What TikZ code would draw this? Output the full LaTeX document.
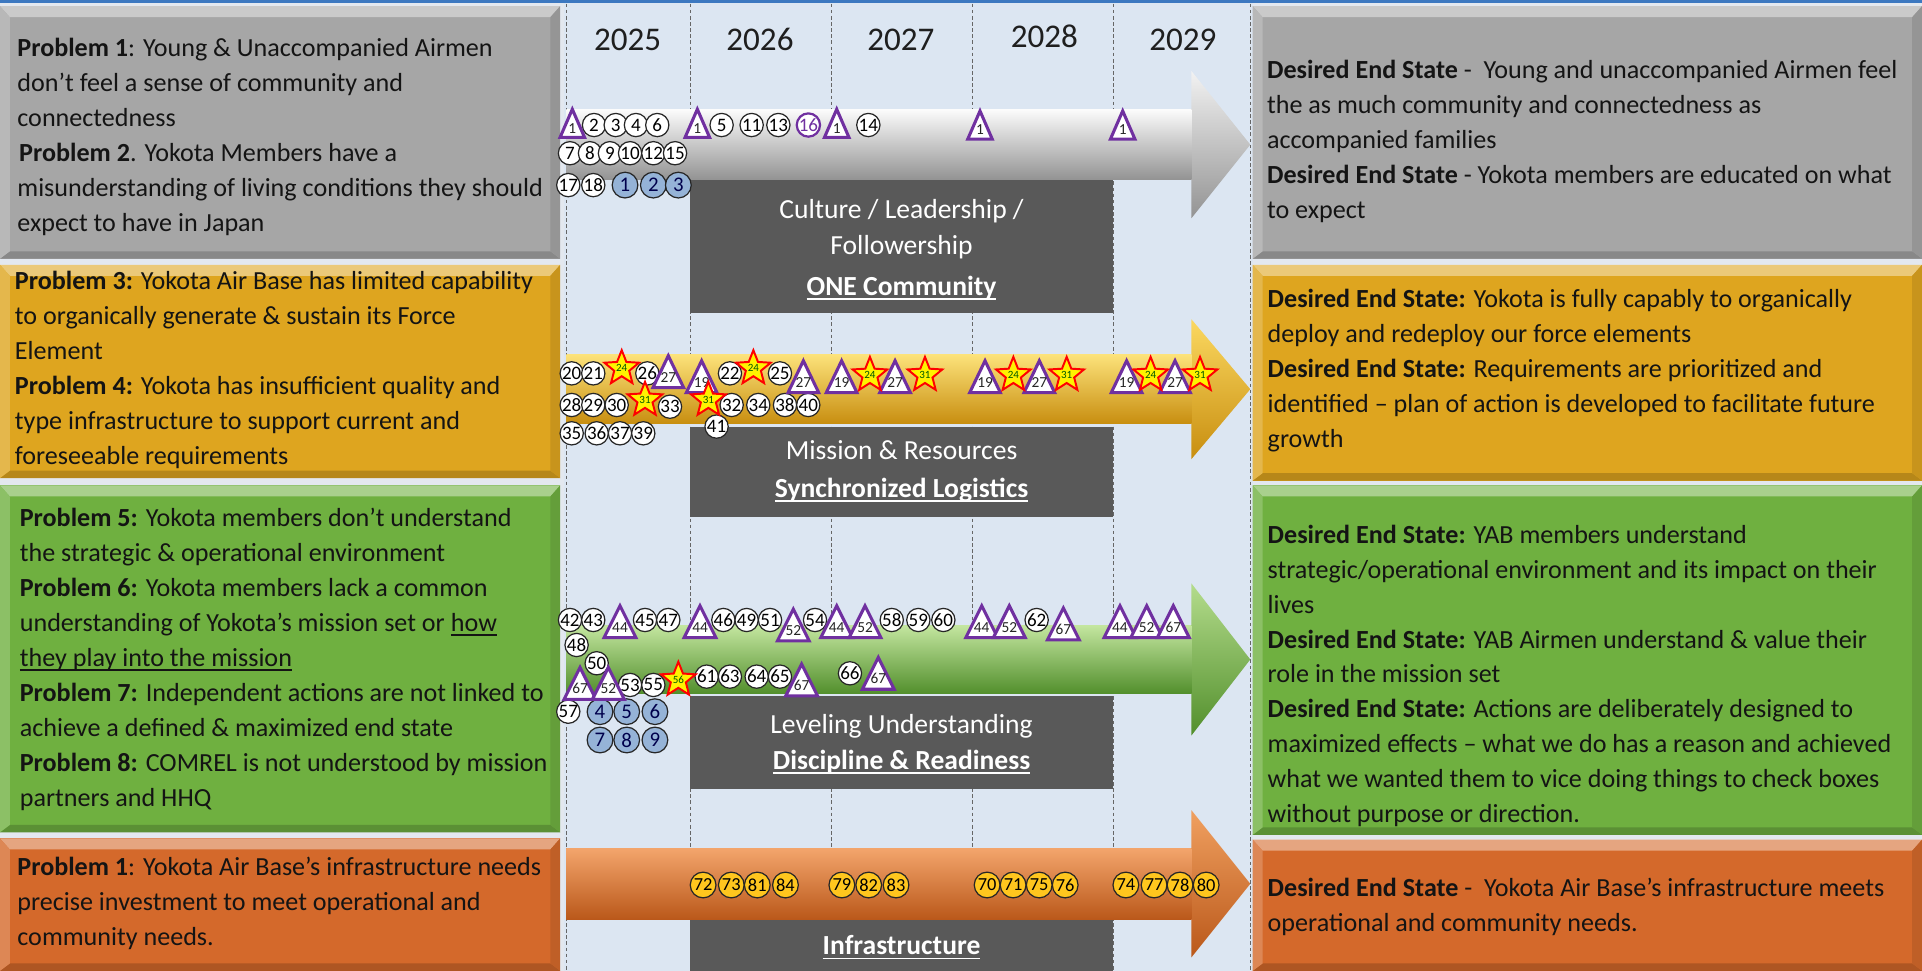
\documentclass[tikz,border=0pt]{standalone}
\usepackage{fontspec}
\setmainfont{Carlito}
\usetikzlibrary{shapes.geometric}
\newcommand\uln[1]{\leavevmode\setbox0\hbox{#1}\rlap{\raisebox{-3.5pt}{\rule{\wd0}{1.3pt}}}\box0}
\definecolor{cgap}{HTML}{E3E8EF}
\definecolor{ccol}{HTML}{DCE6F2}
\definecolor{ctop}{HTML}{3C78C0}
\definecolor{cgray}{HTML}{A6A6A6}
\definecolor{cgold}{HTML}{DEA51F}
\definecolor{cgreen}{HTML}{6FB040}
\definecolor{corange}{HTML}{D4692B}
\definecolor{cdark}{HTML}{595959}
\definecolor{cblue}{HTML}{95B3D7}
\definecolor{cyel}{HTML}{FFC61E}
\definecolor{cpurp}{HTML}{7030A0}
\definecolor{agl}{HTML}{FBD860}\definecolor{agm}{HTML}{EEB020}\definecolor{agd}{HTML}{C88E10}\definecolor{agt}{HTML}{FCE27A}
\definecolor{anl}{HTML}{B4DC8C}\definecolor{anm}{HTML}{7EBD4A}\definecolor{and}{HTML}{528F2C}\definecolor{ant}{HTML}{C4E6A0}
\definecolor{aol}{HTML}{F0A060}\definecolor{aom}{HTML}{E4742C}\definecolor{aod}{HTML}{BA581A}\definecolor{aot}{HTML}{F3A56C}
\definecolor{ayl}{HTML}{F2F2F2}\definecolor{aym}{HTML}{C9C9C9}\definecolor{ayd}{HTML}{939393}\definecolor{ayt}{HTML}{FBFBFB}
\newcommand\panel[5]{%
  \fill[#5] (#1,#2) rectangle (#3,#4);
  \fill[#5!60!white] (#1,#2) -- (#3,#2) -- ({#3-8},{#2+9}) -- ({#1+8},{#2+9}) -- cycle;
  \fill[#5!82!black] (#1,#4) -- (#3,#4) -- ({#3-8},{#4-6}) -- ({#1+8},{#4-6}) -- cycle;
  \fill[#5!90!black] (#3,#2) -- (#3,#4) -- ({#3-8},{#4-6}) -- ({#3-8},{#2+9}) -- cycle;
  \fill[#5!80!white] (#1,#2) -- (#1,#4) -- ({#1+8},{#4-6}) -- ({#1+8},{#2+9}) -- cycle;}
% cy, half body, half head, colour prefix
\newcommand\larrow[4]{%
  \shade[top color=#4l, middle color=#4m, bottom color=#4d] (462,{#1-#2}) -- (972,{#1-#2}) -- (972,{#1-#3}) -- (1020,#1) -- (972,{#1+#3}) -- (972,{#1+#2}) -- (462,{#1+#2}) -- cycle;
  \shade[top color=#4t, middle color=#4m, bottom color=#4d] (462,{#1-#2}) rectangle (972,{#1+#2});}
\def\triw{10}\def\trih{24}
\newcommand\mtri[4]{%
  \draw[triline] ({#2},{#3-0.5*\trih}) -- ({#2+\triw},{#3+0.5*\trih}) -- ({#2-\triw},{#3+0.5*\trih}) -- cycle;
  \node[trilab] (#1) at ({#2},{#3+0.17*\trih}) {#4};}
\begin{document}
\begin{tikzpicture}[x=1pt,y=-1pt,
  txt/.style={anchor=north west, inner sep=0, align=left, font=\fontsize{21.3}{28.5}\selectfont, text=black!92},
  boxtxt/.style={anchor=base, inner sep=0, font=\fontsize{22.5}{27}\selectfont, text=white},
  year/.style={anchor=base, inner sep=0, font=\fontsize{27}{30}\selectfont, text=black!88},
  wc/.style={circle, draw=black!85, line width=1, fill=white, inner sep=0, minimum size=19, font=\fontsize{15.5}{15.5}\selectfont},
  bc/.style={wc, fill=cblue, minimum size=21, font=\fontsize{17}{17}\selectfont, text=blue!30!black},
  yc/.style={wc, fill=cyel, minimum size=21, font=\fontsize{15}{15}\selectfont},
  pc/.style={wc, draw=cpurp, line width=1.8, text=cpurp},
  triline/.style={draw=cpurp, line width=2.5, fill=white, line join=miter},
  trilab/.style={inner sep=0, font=\fontsize{12.5}{12.5}\selectfont, text=black!85},
  stm/.style={star, star points=5, star point ratio=2.3, draw=red, line width=1.6, fill=yellow, minimum size=28, inner sep=0, font=\fontsize{9}{9}\selectfont, text=green!35!black},
  vline/.style={densely dashed, draw=black!60, line width=0.7},
]
\useasboundingbox (0,0) rectangle (1568,792);
% background
\fill[cgap] (0,0) rectangle (1568,792);
\fill[ccol] (460,0) rectangle (1022,792);
\foreach \x in {462,563,678,793,908,1020} \draw[vline] (\x,3) -- (\x,792);
% panels
\panel{0}{5}{457}{211}{cgray}
\panel{0}{216}{457}{390}{cgold}
\panel{0}{396}{457}{679}{cgreen}
\panel{0}{684}{457}{792}{corange}
\panel{1022}{5}{1568}{211}{cgray}
\panel{1022}{216}{1568}{392}{cgold}
\panel{1022}{396}{1568}{681}{cgreen}
\panel{1022}{685}{1568}{792}{corange}
\fill[ctop] (0,0) rectangle (1568,2.5);
% arrows
\larrow{118}{28.5}{60}{ay}
\larrow{317.5}{28}{57}{ag}
\larrow{538}{28}{62}{an}
\larrow{721}{29}{60}{ao}
% dark boxes
\fill[cdark] (563,146.8) rectangle (908,255);
\fill[cdark] (563,348) rectangle (908,422);
\fill[cdark] (563,568) rectangle (908,644);
\fill[cdark] (563,750.6) rectangle (908,792);
\node[boxtxt] (b1a) at (735.5,178) {Culture / Leadership /};
\node[boxtxt] (b1b) at (735.5,208) {Followership};
\node[boxtxt] (b1c) at (735.5,241) {\textbf{\uln{ONE Community}}};
\node[boxtxt] (b2a) at (735.5,375) {Mission \& Resources};
\node[boxtxt] (b2b) at (735.5,406) {\textbf{\uln{Synchronized Logistics}}};
\node[boxtxt] (b3a) at (735.5,598) {Leveling Understanding};
\node[boxtxt] (b3b) at (735.5,628) {\textbf{\uln{Discipline \& Readiness}}};
\node[boxtxt] (b4a) at (735.5,779) {\textbf{\uln{Infrastructure}}};
% years
\node[year] (y25) at (512,41.5) {2025};
\node[year] (y26) at (620,41.5) {2026};
\node[year] (y27) at (735,41.5) {2027};
\node[year] (y28) at (852,38.5) {2028};
\node[year] (y29) at (965,41.5) {2029};
% left texts
\node[txt] (l1) at (14,26.25) {\strut\textbf{Problem 1}: Young \& Unaccompanied Airmen\\don’t feel a sense of community and\\connectedness\\\hspace{1.5pt}\textbf{Problem 2}. Yokota Members have a\\misunderstanding of living conditions they should\\expect to have in Japan};
\node[txt] (l2) at (12,216.3) {\strut\textbf{Problem 3:} Yokota Air Base has limited capability\\to organically generate \& sustain its Force\\Element\\\textbf{Problem 4:} Yokota has insufficient quality and\\type infrastructure to support current and\\foreseeable requirements};
\node[txt] (l3) at (16,409.75) {\strut\textbf{Problem 5:} Yokota members don’t understand\\the strategic \& operational environment\\\textbf{Problem 6:} Yokota members lack a common\\understanding of Yokota’s mission set or \uln{how}\\\uln{they play into the mission}\\\textbf{Problem 7:} Independent actions are not linked to\\achieve a defined \& maximized end state\\\textbf{Problem 8:} COMREL is not understood by mission\\partners and HHQ};
\node[txt] (l4) at (14,694) {\strut\textbf{Problem 1}: Yokota Air Base’s infrastructure needs\\precise investment to meet operational and\\community needs.};
% right texts
\node[txt] (r1) at (1033.5,44) {\strut\textbf{Desired End State} -~ Young and unaccompanied Airmen feel\\the as much community and connectedness as\\accompanied families\\\textbf{Desired End State} - Yokota members are educated on what\\to expect};
\node[txt] (r2) at (1034,231) {\strut\textbf{Desired End State:} Yokota is fully capably to organically\\deploy and redeploy our force elements\\\textbf{Desired End State:} Requirements are prioritized and\\identified – plan of action is developed to facilitate future\\growth};
\node[txt] (r3) at (1034,423) {\strut\textbf{Desired End State:} YAB members understand\\strategic/operational environment and its impact on their\\lives\\\textbf{Desired End State:} YAB Airmen understand \& value their\\role in the mission set\\\textbf{Desired End State:} Actions are deliberately designed to\\maximized effects – what we do has a reason and achieved\\what we wanted them to vice doing things to check boxes\\without purpose or direction.};
\node[txt] (r4) at (1034,711) {\strut\textbf{Desired End State} -~ Yokota Air Base’s infrastructure meets\\operational and community needs.};
% ===== row 1 markers
\foreach \n/\x/\y [count=\k] in {2/484.6/102,3/502.3/102,4/518.8/102,6/536.2/102,5/588.7/102,11/613.2/102,13/635/102,14/708.4/102,7/465/125,8/481.3/125,9/497.6/125,10/514/125,12/533/125,15/550.7/125,17/463.6/151,18/484/151}
  \node[wc] (a\k) at (\x,\y) {\n};
\foreach \n/\x/\y [count=\k] in {1/509.9/151,2/533/151,3/553.4/151}
  \node[bc] (ab\k) at (\x,\y) {\n};
\node[pc] (ap1) at (659.5,102) {16};
\def\triw{10}\def\trih{23}
\foreach \n/\x/\y [count=\k] in {1/466.9/100.6,1/568.9/100.6,1/682.6/100.6,1/799.5/102,1/915.9/102}
  {\mtri{at\k}{\x}{\y}{\n}}
% ===== row 2 markers
\foreach \n/\x/\y [count=\k] in {20/466.4/304.6,21/484/304.6,26/528.1/304.6,22/595.5/304.6,25/636.3/304.6,28/466.4/330.4,29/484/330.4,30/503.1/330.4,33/546.6/331.8,32/596.9/330.4,34/618.6/330.4,38/640.4/330.4,40/659.4/330.4,35/466.4/353.5,36/486.8/353.5,37/505.8/353.5,39/524.8/353.5,41/584.6/348}
  \node[wc] (c\k) at (\x,\y) {\n};
\def\triw{12.5}\def\trih{26}
\foreach \n/\x/\y [count=\k] in {27/545.2/303.2,19/572.4/307.3,27/655.4/307.3,19/686.6/307.3,27/730.2/307.3,19/803.6/307.3,27/847.9/307.3,19/919.1/307.3,27/958.6/307.3}
  {\mtri{ct\k}{\x}{\y}{\n}}
\foreach \n/\x/\y [count=\k] in {24/507.2/300.5,31/526.2/326.3,31/577.9/326.3,24/614.6/300.5,24/709.7/306,31/754.6/306,24/826.7/306,31/870.2/306,24/938.7/306,31/979/306}
  \node[stm] (cs\k) at (\x,\y) {\n};
% ===== row 3 markers
\foreach \n/\x/\y [count=\k] in {42/465/505.8,43/484/505.8,45/526.2/505.8,47/545.2/505.8,46/590.1/505.8,49/609.1/505.8,51/628.2/505.8,54/664.9/505.8,58/727.5/505.8,59/749.2/505.8,60/769.6/505.8,62/845.7/505.8,48/470.4/526.2,50/486.8/541.1,53/514/558.8,55/533/558.8,61/576.5/552,63/595.5/552,64/617.3/552,65/636.3/552,66/693.4/549.3,57/463.6/580.6}
  \node[wc] (e\k) at (\x,\y) {\n};
\foreach \n/\x/\y [count=\k] in {4/489.5/580.6,5/511.3/580.6,6/534.3/580.6,7/489.5/603.7,8/511.3/603.7,9/534.3/603.7}
  \node[bc] (eb\k) at (\x,\y) {\n};
\def\triw{13}\def\trih{26}
\foreach \n/\x/\y [count=\k] in {44/505.8/507.2,44/571.1/507.2,52/647.2/509.9,44/682.6/507.2,52/705.7/507.2,44/800.9/507.2,52/823.4/507.2,67/867.5/509,44/913.7/507.2,52/935.5/507.2,67/957.2/507.2,67/473.2/557.5,52/496.3/557.5,67/654/554.7,67/716.5/549.3}
  {\mtri{et\k}{\x}{\y}{\n}}
\node[stm, minimum size=25] (es1) at (553.4,554.7) {56};
% ===== row 4 markers
\foreach \n/\x [count=\k] in {72/573.6,73/596.6,81/617.8,84/640.8,79/686.8,82/708.7,83/731,70/805.3,71/826.5,75/847.8,76/869,74/918.5,77/941.5,78/962.7,80/984}
  \node[yc] (g\k) at (\x,722) {\n};
\end{tikzpicture}
\end{document}
